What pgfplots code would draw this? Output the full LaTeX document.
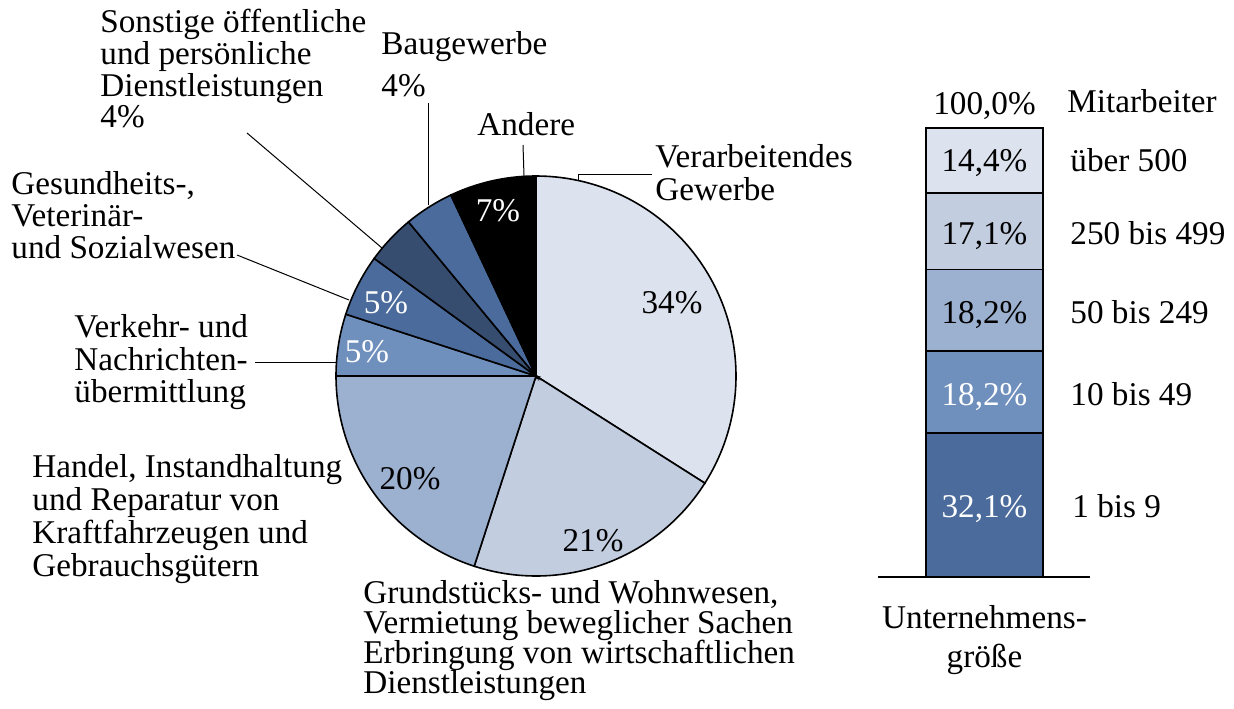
\documentclass[border=0pt]{standalone}
\usepackage{fontspec}
\setmainfont{Liberation Serif}
\usepackage{pgfplots}
\pgfplotsset{compat=1.18}
\definecolor{c1}{HTML}{DDE3EE}
\definecolor{c2}{HTML}{C3CDE0}
\definecolor{c3}{HTML}{9CB0D0}
\definecolor{c4}{HTML}{6F8FBD}
\definecolor{c5}{HTML}{4A6B9B}
\definecolor{c6}{HTML}{364D6F}
\tikzset{lab/.style={anchor=base west, inner sep=0pt},
  cen/.style={anchor=base, inner sep=0pt}}
\begin{document}
\fontsize{16.6}{16.6}\selectfont
\begin{tikzpicture}[font=\fontsize{16.6}{16.6}\selectfont]
\useasboundingbox (0,0) rectangle (617pt,354pt);
% ---------- stacked bar: Unternehmensgröße ----------
\begin{axis}[at={(0,65.5pt)}, anchor=south west, scale only axis,
  width=617pt, height=224.5pt, xmin=0, xmax=1234, ymin=0, ymax=100,
  hide axis, clip=false, ybar stacked, bar width=58.5pt]
\addplot[fill=c5, draw=black, line width=0.9pt] coordinates {(984.5,32.1)};
\addplot[fill=c4, draw=black, line width=0.9pt] coordinates {(984.5,18.2)};
\addplot[fill=c3, draw=black, line width=0.9pt] coordinates {(984.5,18.2)};
\addplot[fill=c2, draw=black, line width=0.9pt] coordinates {(984.5,17.1)};
\addplot[fill=c1, draw=black, line width=0.9pt] coordinates {(984.5,14.4)};
\end{axis}
% ---------- canvas: pie + labels (1 unit = 1 px) ----------
\begin{axis}[at={(0,0)}, anchor=south west, scale only axis,
  width=617pt, height=354pt, xmin=0, xmax=1234, ymin=0, ymax=708,
  hide axis, clip=false]
% pie slices: percentages 34, 21, 20, 5, 5, 4, 4, 7 (clockwise from 12 o'clock)
\addplot[fill=c1, draw=black, line width=0.8pt, domain=-32.4:90, samples=90]
  ({536+200*cos(x)},{332+200*sin(x)}) -- (axis cs:536,332) -- cycle;
\addplot[fill=c2, draw=black, line width=0.8pt, domain=-108:-32.4, samples=60]
  ({536+200*cos(x)},{332+200*sin(x)}) -- (axis cs:536,332) -- cycle;
\addplot[fill=c3, draw=black, line width=0.8pt, domain=-180:-108, samples=60]
  ({536+200*cos(x)},{332+200*sin(x)}) -- (axis cs:536,332) -- cycle;
\addplot[fill=c4, draw=black, line width=0.8pt, domain=-198:-180, samples=20]
  ({536+200*cos(x)},{332+200*sin(x)}) -- (axis cs:536,332) -- cycle;
\addplot[fill=c5, draw=black, line width=0.8pt, domain=-216:-198, samples=20]
  ({536+200*cos(x)},{332+200*sin(x)}) -- (axis cs:536,332) -- cycle;
\addplot[fill=c6, draw=black, line width=0.8pt, domain=-230.4:-216, samples=20]
  ({536+200*cos(x)},{332+200*sin(x)}) -- (axis cs:536,332) -- cycle;
\addplot[fill=c5, draw=black, line width=0.8pt, domain=-244.8:-230.4, samples=20]
  ({536+200*cos(x)},{332+200*sin(x)}) -- (axis cs:536,332) -- cycle;
\addplot[fill=black, draw=black, line width=0.8pt, domain=-270:-244.8, samples=30]
  ({536+200*cos(x)},{332+200*sin(x)}) -- (axis cs:536,332) -- cycle;
% leader lines
\addplot[black, line width=0.5pt] coordinates {(578,527.5) (578,533) (652,533)};
\addplot[black, line width=0.5pt] coordinates {(524,532) (523,563)};
\addplot[black, line width=0.5pt] coordinates {(428,503) (428,605)};
\addplot[black, line width=0.5pt] coordinates {(382,460) (247,575)};
\addplot[black, line width=0.5pt] coordinates {(349,408) (237,453)};
\addplot[black, line width=0.5pt] coordinates {(337,346) (255,346)};
% baseline under the bar
\addplot[black, line width=0.8pt] coordinates {(878,131) (1090,131)};
% pie labels
\node[lab] at (axis cs:100,675) {Sonstige öffentliche};
\node[lab] at (axis cs:100,643) {und persönliche};
\node[lab] at (axis cs:100,611) {Dienstleistungen};
\node[lab] at (axis cs:100,580) {4\%};
\node[lab] at (axis cs:381,653) {Baugewerbe};
\node[lab] at (axis cs:381,611) {4\%};
\node[lab] at (axis cs:477,572) {Andere};
\node[lab] at (axis cs:655,540) {Verarbeitendes};
\node[lab] at (axis cs:655,508) {Gewerbe};
\node[lab] at (axis cs:11,514) {Gesundheits-,};
\node[lab] at (axis cs:11,482) {Veterinär-};
\node[lab] at (axis cs:11,450) {und Sozialwesen};
\node[lab] at (axis cs:74,371) {Verkehr- und};
\node[lab] at (axis cs:74,338) {Nachrichten-};
\node[lab] at (axis cs:74,306) {übermittlung};
\node[lab] at (axis cs:32,231) {Handel, Instandhaltung};
\node[lab] at (axis cs:32,198) {und Reparatur von};
\node[lab] at (axis cs:32,165) {Kraftfahrzeugen und};
\node[lab] at (axis cs:32,132) {Gebrauchsgütern};
\node[lab] at (axis cs:363,105) {Grundstücks- und Wohnwesen,};
\node[lab] at (axis cs:363,75) {Vermietung beweglicher Sachen};
\node[lab] at (axis cs:363,45) {Erbringung von wirtschaftlichen};
\node[lab] at (axis cs:363,15) {Dienstleistungen};
% values in the pie
\node[cen] at (axis cs:672,395) {34\%};
\node[cen] at (axis cs:593,157) {21\%};
\node[cen] at (axis cs:410,219) {20\%};
\node[cen, text=white] at (axis cs:367,346) {5\%};
\node[cen, text=white] at (axis cs:386,395) {5\%};
\node[cen, text=white] at (axis cs:498,487) {7\%};
% bar labels
\node[cen] at (axis cs:984.5,593) {100,0\%};
\node[cen] at (axis cs:984.5,536) {14,4\%};
\node[cen] at (axis cs:984.5,464) {17,1\%};
\node[cen] at (axis cs:984.5,385) {18,2\%};
\node[cen, text=white] at (axis cs:984.5,303) {18,2\%};
\node[cen, text=white] at (axis cs:984.5,191) {32,1\%};
\node[lab] at (axis cs:1067,595) {Mitarbeiter};
\node[lab] at (axis cs:1070,536) {über 500};
\node[lab] at (axis cs:1070,464) {250 bis 499};
\node[lab] at (axis cs:1070,385) {50 bis 249};
\node[lab] at (axis cs:1070,303) {10 bis 49};
\node[lab] at (axis cs:1072,191) {1 bis 9};
\node[cen] at (axis cs:984.5,80) {Unternehmens-};
\node[cen] at (axis cs:984.5,41) {größe};
\end{axis}
\end{tikzpicture}
\end{document}
